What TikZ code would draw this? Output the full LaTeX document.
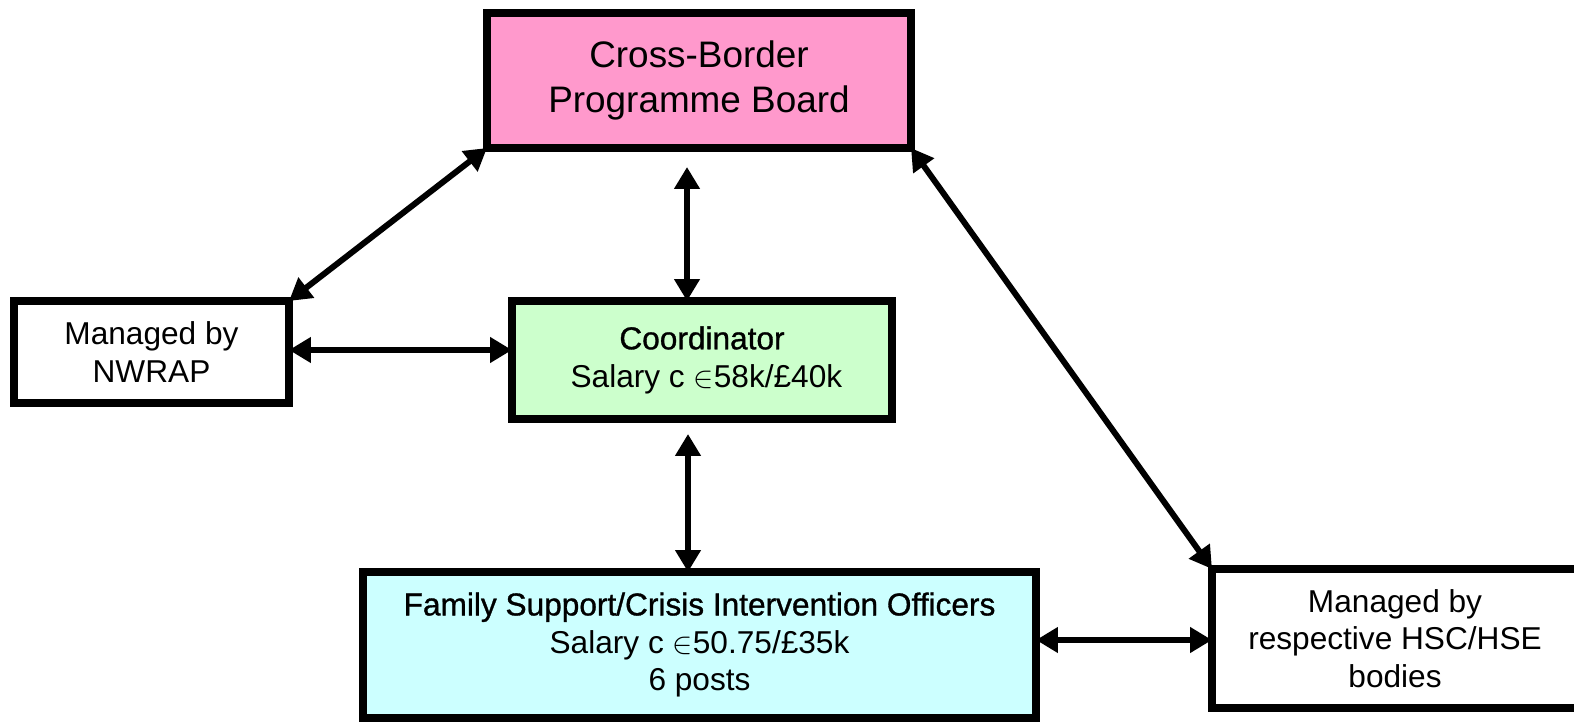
\documentclass[tikz,border=0pt]{standalone}
\usepackage{fontspec}
\setmainfont{Liberation Sans}
\newfontfamily\heavyfont[FakeBold=1]{Liberation Sans}
\usetikzlibrary{arrows.meta}
\definecolor{boardpink}{HTML}{FF99CC}
\definecolor{coordgreen}{HTML}{CCFFCC}
\definecolor{officercyan}{HTML}{CCFFFF}
\newcommand{\euro}{{\fontsize{17}{17}\selectfont$\in$}}
\tikzstyle{every node}=[font=\fontsize{18}{21.5}\selectfont]
\tikzstyle{orgbox}=[draw=black, line width=4.3pt, inner sep=0pt, outer sep=0pt, align=center]
\tikzstyle{twoway}=[line width=3.4pt, {Triangle[length=12.5pt,width=14pt]}-{Triangle[length=12.5pt,width=14pt]}]

\begin{document}
\begin{tikzpicture}[x=0.02cm, y=-0.02cm]
  \useasboundingbox (0,0) rectangle (1574,722);
  \begin{scope}
   \clip (0,0) rectangle (1574,722);
   % boxes
   \node[orgbox, fill=boardpink, minimum width=424*0.02cm, minimum height=135*0.02cm,
         font=\fontsize{21}{25.5}\selectfont] (board) at (699,80.5)
        {Cross-Border\\Programme Board};
   \node[orgbox, fill=white, minimum width=275*0.02cm, minimum height=102*0.02cm] (nwrap) at (151.5,352)
        {Managed by\\NWRAP};
   \node[orgbox, fill=coordgreen, minimum width=380*0.02cm, minimum height=118*0.02cm] (coord) at (702,360)
        {{\heavyfont Coordinator}\\\ Salary c \euro58k/\pounds40k};
   \node[orgbox, fill=officercyan, minimum width=673*0.02cm, minimum height=146*0.02cm] (family) at (699.5,645)
        {{\heavyfont Family Support/Crisis Intervention Officers}\\Salary c \euro50.75/\pounds35k\\6 posts};
   \node[orgbox, fill=white, minimum width=366*0.02cm, minimum height=139*0.02cm] (hsc) at (1395,638.5)
        {Managed by\\respective HSC/HSE\\bodies};
  \end{scope}
  % links
  \coordinate (boardlow) at (687,167);
  \coordinate (coordlow) at (688,434);
  \draw[twoway] (board.south west) -- (nwrap.north east);
  \draw[twoway] (boardlow) -- (boardlow |- coord.north);
  \draw[twoway] (nwrap.east |- 0,350) -- (coord.west |- 0,350);
  \draw[twoway] (coordlow) -- (coordlow |- family.north);
  \draw[twoway] (family.east |- 0,640) -- (hsc.west |- 0,640);
  \draw[twoway] (board.south east) -- (hsc.north west);
\end{tikzpicture}
\end{document}
